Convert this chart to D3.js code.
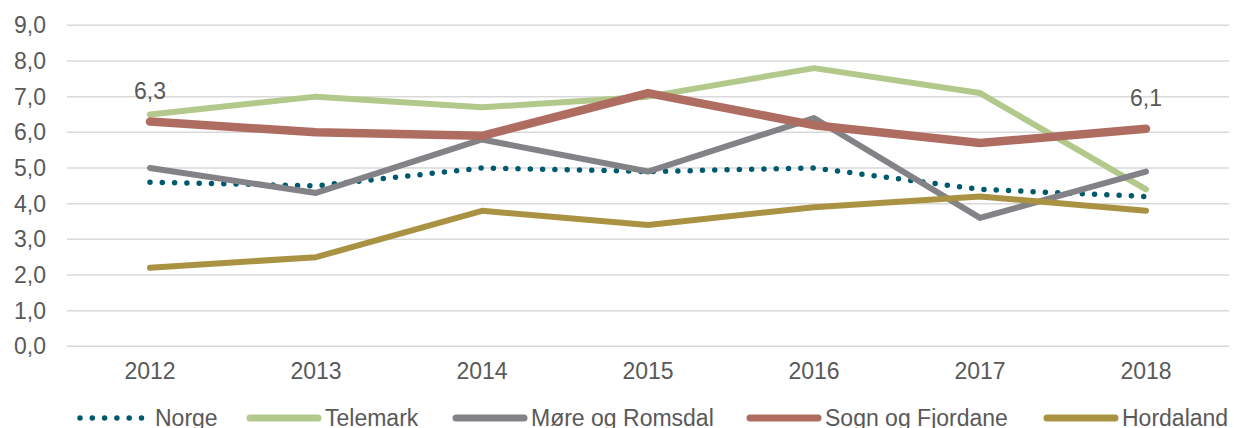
<!DOCTYPE html>
<html>
<head>
<meta charset="utf-8">
<script src="https://cdn.jsdelivr.net/npm/d3@7/dist/d3.min.js"></script>
<style>
  html, body { margin: 0; padding: 0; background: #fff; }
  svg { display: block; }
  text { font-family: "Liberation Sans", Arial, sans-serif; fill: #595959; }
</style>
</head>
<body>
<svg id="chart" width="1234" height="428"></svg>
<script>
// Years on the x axis
const years = ["2012", "2013", "2014", "2015", "2016", "2017", "2018"];

// Series values (per year)
const norge        = [4.6, 4.5, 5.0, 4.9, 5.0, 4.4, 4.2];
const telemark     = [6.5, 7.0, 6.7, 7.0, 7.8, 7.1, 4.4];
const moreRomsdal  = [5.0, 4.3, 5.8, 4.9, 6.4, 3.6, 4.9];
const sognFjordane = [6.3, 6.0, 5.9, 7.1, 6.2, 5.7, 6.1];
const hordaland    = [2.2, 2.5, 3.8, 3.4, 3.9, 4.2, 3.8];

// Y-axis tick values
const yTicks = [0, 1, 2, 3, 4, 5, 6, 7, 8, 9];

const series = [
  { name: "Norge", values: norge, color: "#005a6e", width: 5.5, dotted: true },
  { name: "Telemark", values: telemark, color: "#b2c98b", width: 6 },
  { name: "Møre og Romsdal", values: moreRomsdal, color: "#838387", width: 6 },
  { name: "Sogn og Fjordane", values: sognFjordane, color: "#af6d62", width: 8.5, labelEnds: true },
  { name: "Hordaland", values: hordaland, color: "#a99343", width: 6 }
];

const FONT = 23;
const svg = d3.select("#chart");
const fmt = v => d3.format(".1f")(v).replace(".", ",");

const x = d3.scaleBand().domain(years).range([67, 1229]);
const y = d3.scaleLinear().domain([0, 9]).range([346.3, 25.3]);
const cx = d => x(d) + x.bandwidth() / 2;

// Horizontal gridlines
svg.append("g")
  .selectAll("line")
  .data(yTicks)
  .join("line")
  .attr("x1", 67).attr("x2", 1229)
  .attr("y1", d => y(d)).attr("y2", d => y(d))
  .attr("stroke", "#d9d9d9").attr("stroke-width", 1.5);

// Y axis labels
const yAxis = svg.append("g")
  .attr("transform", "translate(46,0)")
  .call(d3.axisLeft(y).tickValues(yTicks).tickFormat(fmt).tickSize(0).tickPadding(0));
yAxis.select(".domain").remove();
yAxis.selectAll("text")
  .attr("font-size", FONT).attr("fill", "#595959")
  .attr("font-family", "Liberation Sans, Arial, sans-serif");

// X axis labels
const xAxis = svg.append("g")
  .attr("transform", "translate(0,363)")
  .call(d3.axisBottom(x).tickSize(0).tickPadding(0));
xAxis.select(".domain").remove();
xAxis.selectAll("text")
  .attr("font-size", FONT).attr("fill", "#595959")
  .attr("font-family", "Liberation Sans, Arial, sans-serif");

const line = d3.line()
  .x((d, i) => cx(years[i]))
  .y(d => y(d));

// Lines
svg.append("g")
  .selectAll("path")
  .data(series)
  .join("path")
  .attr("d", s => line(s.values))
  .attr("fill", "none")
  .attr("stroke", s => s.color)
  .attr("stroke-width", s => s.width)
  .attr("stroke-linecap", "round")
  .attr("stroke-linejoin", "round")
  .attr("stroke-dasharray", s => s.dotted ? "0 12.3" : null);

// End-point value labels
series.filter(s => s.labelEnds).forEach(s => {
  const idx = [0, s.values.length - 1];
  svg.append("g")
    .selectAll("text")
    .data(idx)
    .join("text")
    .attr("x", i => cx(years[i]))
    .attr("y", i => y(s.values[i]) - 23)
    .attr("text-anchor", "middle")
    .attr("font-size", FONT)
    .text(i => fmt(s.values[i]));
});

// Legend
const legendX = [78, 248, 454, 748, 1045];
const legend = svg.append("g");
series.forEach((s, i) => {
  const g = legend.append("g").attr("transform", `translate(${legendX[i]},418)`);
  g.append("line")
    .attr("x1", 2).attr("x2", 70)
    .attr("y1", 0).attr("y2", 0)
    .attr("stroke", s.color)
    .attr("stroke-width", s.dotted ? 5.5 : 7)
    .attr("stroke-linecap", "round")
    .attr("stroke-dasharray", s.dotted ? "0 12.3" : null);
  g.append("text")
    .attr("x", 77).attr("y", 8)
    .attr("font-size", FONT)
    .text(s.name);
});
</script>
</body>
</html>
